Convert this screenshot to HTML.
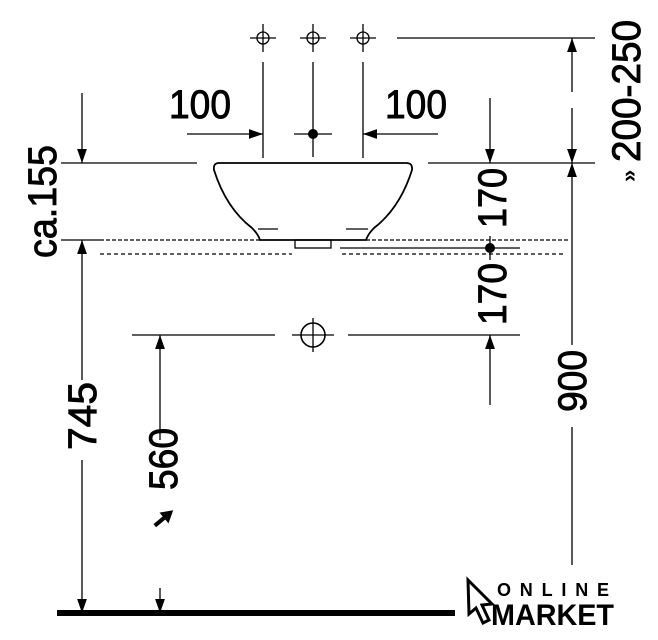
<!DOCTYPE html>
<html><head><meta charset="utf-8"><style>
html,body{margin:0;padding:0;background:#fff;width:658px;height:640px;overflow:hidden}
svg{display:block}
text{font-family:"Liberation Sans",sans-serif;fill:#000}
</style></head><body>
<svg width="658" height="640" viewBox="0 0 658 640" xmlns="http://www.w3.org/2000/svg">
<defs>
<marker id="a" viewBox="0 0 10 10" refX="10" refY="5" markerWidth="14" markerHeight="14" markerUnits="userSpaceOnUse" orient="auto"><path d="M0,1.5 L10,5 L0,8.5 Z" fill="#000"/></marker>
</defs>
<g stroke="#000" stroke-width="1.3" fill="none">
<circle cx="263" cy="38" r="6"/><line x1="250" y1="38" x2="276" y2="38"/><line x1="263" y1="24" x2="263" y2="52"/>
<circle cx="313" cy="38" r="6"/><line x1="300" y1="38" x2="326" y2="38"/><line x1="313" y1="24" x2="313" y2="52"/>
<circle cx="363" cy="38" r="6"/><line x1="350" y1="38" x2="376" y2="38"/><line x1="363" y1="24" x2="363" y2="52"/>
<line x1="263" y1="62" x2="263" y2="158"/>
<line x1="313" y1="62" x2="313" y2="157"/>
<line x1="363" y1="62" x2="363" y2="158"/>
<line x1="294" y1="134" x2="332" y2="134"/>
<line x1="187" y1="134" x2="263" y2="134" marker-end="url(#a)"/>
<line x1="438" y1="134" x2="363" y2="134" marker-end="url(#a)"/>
<line x1="397" y1="38" x2="595" y2="38"/>
<line x1="572" y1="92" x2="572" y2="38" marker-end="url(#a)"/>
<line x1="572" y1="108" x2="572" y2="163" marker-end="url(#a)"/>
<line x1="61" y1="163" x2="197" y2="163"/>
<line x1="428" y1="163" x2="595" y2="163"/>
<line x1="82" y1="93" x2="82" y2="163" marker-end="url(#a)"/>
<line x1="490" y1="98" x2="490" y2="163" marker-end="url(#a)"/>
<line x1="572" y1="345" x2="572" y2="163" marker-end="url(#a)"/>
<line x1="572" y1="427" x2="572" y2="565"/>
<path d="M219,163 L406,163 Q413,163 412,170 Q400,208 374,228 Q368,234 366,240 L260,240 Q258,234 252,228 Q226,208 214,170 Q213,163 219,163 Z" stroke-width="1.8"/>
<line x1="258" y1="229" x2="278" y2="229"/>
<line x1="346" y1="229" x2="368" y2="229"/>
<rect x="295" y="240" width="36" height="8"/>
<line x1="61" y1="240" x2="100" y2="240"/>
<line x1="100" y1="240" x2="260" y2="240" stroke-dasharray="4,2"/>
<line x1="366" y1="240" x2="568" y2="240" stroke-dasharray="4,2"/>
<line x1="100" y1="254" x2="292" y2="254" stroke-dasharray="4,3"/>
<line x1="342" y1="254" x2="565" y2="254" stroke-dasharray="4,3"/>
<line x1="340" y1="248" x2="520" y2="248"/>
<line x1="490" y1="236" x2="490" y2="260"/>
<line x1="82" y1="380" x2="82" y2="240" marker-end="url(#a)"/>
<line x1="82" y1="460" x2="82" y2="613" marker-end="url(#a)"/>
<line x1="132" y1="335" x2="275" y2="335"/>
<line x1="348" y1="335" x2="520" y2="335"/>
<circle cx="313" cy="335" r="12" stroke-width="1.6"/>
<line x1="292" y1="335" x2="334" y2="335"/><line x1="313" y1="318" x2="313" y2="352"/>
<line x1="490" y1="405" x2="490" y2="335" marker-end="url(#a)"/>
<line x1="160" y1="440" x2="160" y2="335" marker-end="url(#a)"/>
<line x1="160" y1="588" x2="160" y2="613" marker-end="url(#a)"/>
</g>
<circle cx="313" cy="134" r="5"/>
<circle cx="490" cy="248" r="5"/>
<rect x="57" y="610" width="398" height="6" fill="#000"/>
<g transform="translate(164,518) rotate(-40)"><rect x="-12" y="-2" width="14" height="4" fill="#000"/><path d="M0,-7 L12,0 L0,7 Z" fill="#000"/></g>
<g font-size="40" stroke="#000" stroke-width="0.9">
<text x="169" y="118" textLength="62" lengthAdjust="spacingAndGlyphs">100</text>
<text x="385" y="118" textLength="62" lengthAdjust="spacingAndGlyphs">100</text>
<text transform="translate(56,258) rotate(-90)" textLength="113" lengthAdjust="spacingAndGlyphs">ca.155</text>
<text transform="translate(96,450) rotate(-90)" textLength="68" lengthAdjust="spacingAndGlyphs">745</text>
<text transform="translate(177,490) rotate(-90)" textLength="62" lengthAdjust="spacingAndGlyphs">560</text>
<text transform="translate(586,412) rotate(-90)" textLength="62" lengthAdjust="spacingAndGlyphs">900</text>
<text transform="translate(506,228) rotate(-90)" textLength="60" lengthAdjust="spacingAndGlyphs">170</text>
<text transform="translate(506,325) rotate(-90)" textLength="62" lengthAdjust="spacingAndGlyphs">170</text>
<text transform="translate(640,162) rotate(-90)" textLength="142" lengthAdjust="spacingAndGlyphs">200-250</text>
</g>
<text transform="translate(636,182) rotate(-90)" font-size="22" font-weight="bold">»</text>
<path d="M468,580 L492,604 L482,605 L489,620 L483,623 L476,608 L469,614 Z" fill="none" stroke="#000" stroke-width="3"/>
<text x="497" y="596" font-size="18" font-weight="bold" textLength="112" lengthAdjust="spacing">ONLINE</text>
<text x="491" y="625" font-size="30" font-weight="bold" textLength="123" lengthAdjust="spacingAndGlyphs">MARKET</text>
</svg>
</body></html>
